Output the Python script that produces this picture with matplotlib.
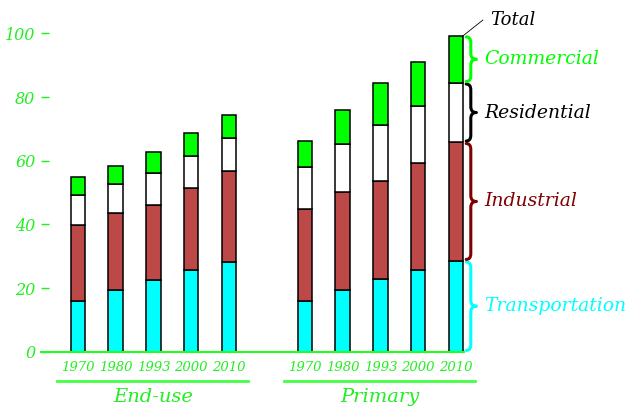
import matplotlib.pyplot as plt
from matplotlib.path import Path
from matplotlib.patches import PathPatch

years = ["1970", "1980", "1993", "2000", "2010"]
groups = ["End-use", "Primary"]

# energy use by sector (stack order bottom -> top)
enduse_transport = [15.9, 19.5, 22.6, 25.6, 28.3]
enduse_industrial = [23.9, 24.0, 23.5, 25.7, 28.4]
enduse_residential = [9.5, 9.1, 9.9, 10.1, 10.4]
enduse_commercial = [5.5, 5.8, 6.7, 7.3, 7.2]

primary_transport = [15.9, 19.5, 22.8, 25.8, 28.6]
primary_industrial = [28.8, 30.7, 30.9, 33.5, 37.2]
primary_residential = [13.2, 15.0, 17.4, 17.9, 18.7]
primary_commercial = [8.2, 10.8, 13.3, 13.9, 14.8]

sectors = ["Transportation", "Industrial", "Residential", "Commercial"]
fill_colors = ["#00ffff", "#bc4848", "#ffffff", "#00ff00"]
label_colors = ["#00ffff", "#800000", "#000000", "#00ff00"]

green = "#22ee22"
font = dict(family="DejaVu Serif", style="italic")

fig = plt.figure(figsize=(6.29, 4.08), dpi=100)
ax = fig.add_axes([0.0652, 0.138, 0.6725, 0.780])

x_end = list(range(5))
x_pri = [i + 6 for i in range(5)]
width = 0.376

series = [
    (x_end, [enduse_transport, enduse_industrial, enduse_residential, enduse_commercial]),
    (x_pri, [primary_transport, primary_industrial, primary_residential, primary_commercial]),
]
for xs, stack in series:
    bottom = [0.0] * len(xs)
    for vals, col in zip(stack, fill_colors):
        ax.bar(xs, vals, width, bottom=bottom, color=col, edgecolor="black", linewidth=1.1, zorder=3)
        bottom = [b + v for b, v in zip(bottom, vals)]


def brace(x0, ya, yb, w, r, color):
    ym = (ya + yb) / 2
    xm = x0 + w * 0.45
    verts = [(x0, ya), (xm, ya), (xm, ya + r), (xm, ym - r), (xm, ym), (x0 + w, ym),
             (xm, ym), (xm, ym + r), (xm, yb - r), (xm, yb), (x0, yb)]
    codes = [Path.MOVETO, Path.CURVE3, Path.CURVE3, Path.LINETO, Path.CURVE3, Path.CURVE3,
             Path.CURVE3, Path.CURVE3, Path.LINETO, Path.CURVE3, Path.CURVE3]
    ax.add_patch(PathPatch(Path(verts, codes), fill=False, edgecolor=color, linewidth=2.2,
                           clip_on=False, capstyle="round", joinstyle="round"))


# braces along the last primary bar
last = x_pri[-1]
edge = last + width / 2
base = 0.0
for vals, name, col in zip(series[1][1], sectors, label_colors):
    top = base + vals[-1]
    brace(edge + 0.08, base + 0.4, top - 0.4, 0.27, 1.8, col)
    ax.text(edge + 0.55, (base + top) / 2, name, color=col, fontsize=13.5, va="center",
            ha="left", clip_on=False, **font)
    base = top

ax.plot([edge, edge + 0.52], [base, 104.2], color="black", linewidth=0.6, clip_on=False)
ax.text(edge + 0.7, 104.2, "Total", color="black", fontsize=13, va="center", ha="left", **font)

# group underlines and names
for xs, name in zip([x_end, x_pri], groups):
    ax.plot([xs[0] - 0.55, xs[-1] + 0.5], [-9.2, -9.2], color="#44ff44", linewidth=2, clip_on=False)
    ax.text(sum(xs) / len(xs), -14.3, name, color=green, fontsize=14, ha="center", va="center", **font)

ax.set_xlim(-0.972, 10.21)
ax.set_ylim(0, 100)
ax.set_xticks(x_end + x_pri)
ax.set_xticklabels(years + years, color=green, fontsize=9.5, **font)
ax.tick_params(axis="x", length=0, pad=7)
ax.set_yticks([0, 20, 40, 60, 80, 100])
ax.set_yticklabels(["0", "20", "40", "60", "80", "100"], color=green, fontsize=11.5, **font)
ax.tick_params(axis="y", direction="in", length=6, width=1, color=green, pad=4)

for s in ["top", "right", "left"]:
    ax.spines[s].set_visible(False)
ax.spines["bottom"].set_color("#22ff22")
ax.spines["bottom"].set_linewidth(1.5)
ax.spines["bottom"].set_zorder(4)

fig.savefig("out.png", dpi=100)
